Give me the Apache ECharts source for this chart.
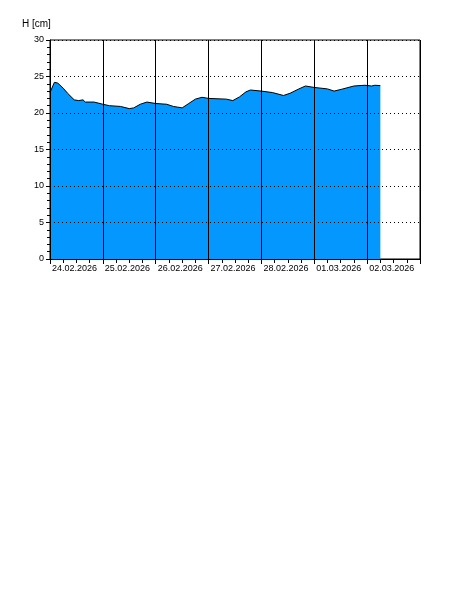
<!DOCTYPE html>
<html>
<head>
<meta charset="utf-8">
<script src="https://cdn.jsdelivr.net/npm/echarts@6/dist/echarts.min.js"></script>
<style>html,body{margin:0;padding:0;background:#fff;}#c{width:450px;height:600px;}</style>
</head>
<body>
<div id="c"></div>
<script>
// hours since 24.02.2026 00:00
const hours = [0, 2, 3.5, 6, 8, 11, 13, 15, 16, 20, 24, 27, 32, 36, 38, 41, 44, 48, 53, 56, 60, 63, 66, 69, 72, 80, 83, 86, 89, 91, 96, 101, 106, 109, 113, 116, 120, 126, 129, 133, 138, 143, 146, 147.5, 150];
const levels = [22.8, 24.2, 24.1, 23.4, 22.7, 21.8, 21.7, 21.8, 21.5, 21.5, 21.2, 21.0, 20.9, 20.6, 20.7, 21.2, 21.5, 21.3, 21.2, 20.9, 20.7, 21.3, 21.9, 22.15, 22.0, 21.9, 21.7, 22.2, 22.9, 23.15, 23.0, 22.8, 22.4, 22.7, 23.3, 23.7, 23.5, 23.3, 23.0, 23.3, 23.7, 23.8, 23.7, 23.8, 23.75];
const dayLabels = ['24.02.2026', '25.02.2026', '26.02.2026', '27.02.2026', '28.02.2026', '01.03.2026', '02.03.2026', '03.03.2026'];
const yTicks = [0, 5, 10, 15, 20, 25, 30];

const chart = echarts.init(document.getElementById('c'), null, {renderer: 'canvas'});
const font = 'Liberation Sans, Arial, sans-serif';
chart.setOption({
  animation: false,
  title: {
    text: 'H [cm]', left: 22, top: 19, padding: 0,
    textStyle: {fontSize: 10, fontWeight: 'normal', color: '#000', fontFamily: font}
  },
  grid: {left: 50, right: 30, top: 40, bottom: 341, show: true, borderColor: '#000', borderWidth: 1, backgroundColor: 'transparent'},
  xAxis: {
    type: 'value', min: 0, max: 168, interval: 24, z: 5,
    axisLine: {show: true, lineStyle: {color: '#000', width: 1}},
    axisTick: {show: true, length: 5, lineStyle: {color: '#000'}},
    minorTick: {show: true, splitNumber: 4, length: 4, lineStyle: {color: '#000'}},
    splitLine: {show: true, lineStyle: {color: '#000', width: 1, type: 'solid'}},
    axisLabel: {
      showMaxLabel: false, align: 'left', margin: 5, padding: [0, 0, 0, 2],
      color: '#000', fontSize: 9, fontFamily: font,
      formatter: v => dayLabels[Math.round(v / 24)]
    }
  },
  yAxis: {
    type: 'value', min: 0, max: 30, interval: 5, z: 5,
    axisLine: {show: true, lineStyle: {color: '#000', width: 1}},
    axisTick: {show: true, length: 4, lineStyle: {color: '#000'}},
    minorTick: {show: true, splitNumber: 5, length: 3, lineStyle: {color: '#000'}},
    splitLine: {show: true, lineStyle: {color: '#000', width: 1, type: [1, 3]}},
    axisLabel: {
      margin: 6, color: '#000', fontSize: 9, fontFamily: font,
      formatter: v => yTicks.includes(v) ? String(v) : ''
    }
  },
  series: [{
    type: 'line', z: 2,
    data: hours.map((h, i) => [h, levels[i]]),
    showSymbol: false, symbol: 'none',
    lineStyle: {color: '#000', width: 1},
    itemStyle: {color: '#0497FE'},
    areaStyle: {color: '#0497FE', opacity: 1}
  }]
});
</script>
</body>
</html>
